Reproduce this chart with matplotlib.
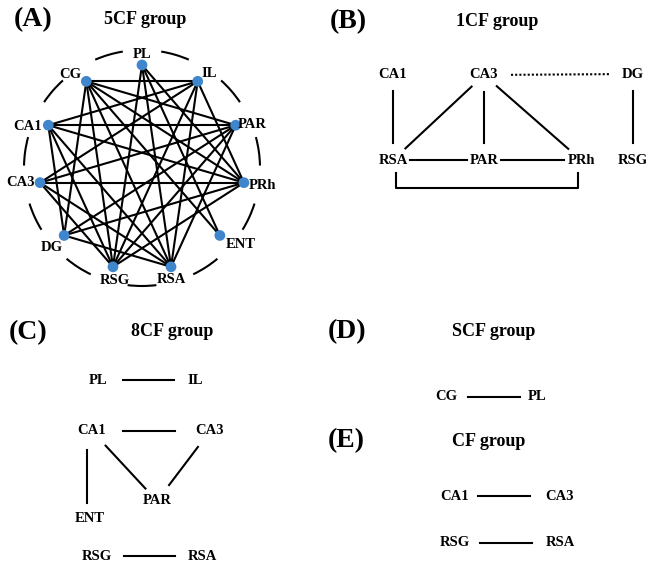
import numpy as np
import matplotlib.pyplot as plt
from matplotlib.patches import Arc

plt.rcParams['font.family'] = ['Liberation Serif', 'DejaVu Serif']
plt.rcParams['font.weight'] = 'bold'

# 5CF group: regions around the ring (clockwise from the top) and their links
ring_nodes = ['PL', 'IL', 'PAR', 'PRh', 'ENT', 'RSA', 'RSG', 'DG', 'CA3', 'CA1', 'CG']
ring_edges = [
    ('CG', 'IL'), ('CG', 'PAR'), ('CG', 'PRh'), ('CG', 'ENT'), ('CG', 'RSA'),
    ('CG', 'RSG'), ('CG', 'DG'),
    ('PL', 'RSG'), ('PL', 'RSA'), ('PL', 'ENT'), ('PL', 'PRh'),
    ('IL', 'CA1'), ('IL', 'CA3'), ('IL', 'PRh'), ('IL', 'RSA'), ('IL', 'RSG'),
    ('CA1', 'PAR'), ('CA1', 'PRh'), ('CA1', 'RSA'), ('CA1', 'RSG'), ('CA1', 'DG'),
    ('CA3', 'PRh'), ('CA3', 'PAR'), ('CA3', 'RSA'), ('CA3', 'RSG'),
    ('PAR', 'DG'), ('PAR', 'RSG'), ('PAR', 'RSA'),
    ('PRh', 'DG'), ('PRh', 'RSG'),
    ('DG', 'RSA'),
]

# other groups: links between regions; dotted links listed separately
b_edges = [('CA1', 'RSA'), ('CA3', 'RSA'), ('CA3', 'PAR'), ('CA3', 'PRh'),
           ('DG', 'RSG'), ('RSA', 'PAR'), ('PAR', 'PRh')]
b_dotted = [('CA3', 'DG')]
c_edges = [('PL', 'IL'), ('CA1', 'CA3'), ('CA1', 'ENT'), ('CA1', 'PAR'),
           ('CA3', 'PAR'), ('RSG', 'RSA')]
d_edges = [('CG', 'PL')]
e_edges = [('CA1', 'CA3'), ('RSG', 'RSA')]

fig = plt.figure(figsize=(6.46, 5.64), dpi=100)
ax = fig.add_axes([0, 0, 1, 1])
ax.set_xlim(0, 646)
ax.set_ylim(564, 0)
ax.axis('off')

LABEL_FS = 10.5
TITLE_FS = 13
PANEL_FS = 20
LW = 1.5


def panel_header(tag, title, tag_xy, title_xy):
    ax.text(tag_xy[0], tag_xy[1], tag, fontsize=PANEL_FS, ha='left', va='center')
    ax.text(title_xy[0], title_xy[1], title, fontsize=TITLE_FS, ha='center', va='center')


def gap_line(p, q, gap_p, gap_q, **kw):
    # line between two labels, trimmed so it stops short of the text
    p = np.array(p, float)
    q = np.array(q, float)
    d = (q - p) / np.linalg.norm(q - p)
    a = p + d * gap_p
    b = q - d * gap_q
    ax.plot([a[0], b[0]], [a[1], b[1]], color='black', lw=LW, **kw)


# ---- (A) 5CF group ----
panel_header('(A)', '5CF group', (14, 20), (145, 20))
cx, cy, r_node, r_ring = 142, 168, 103, 118
angles = 90 - np.arange(len(ring_nodes)) * 360 / len(ring_nodes)
pos_a = {n: (cx + r_node * np.cos(np.radians(a)), cy - r_node * np.sin(np.radians(a)))
         for n, a in zip(ring_nodes, angles)}

for u, v in ring_edges:
    ax.plot([pos_a[u][0], pos_a[v][0]], [pos_a[u][1], pos_a[v][1]],
            color='black', lw=LW, zorder=2)

xs = [pos_a[n][0] for n in ring_nodes]
ys = [pos_a[n][1] for n in ring_nodes]
ax.scatter(xs, ys, s=60, color='#3f86cc', zorder=3, edgecolors='none')

# dashed ring: one arc between each pair of neighbouring regions
step = 360 / len(ring_nodes)
for a in angles:
    mid = a - step / 2
    # y axis is flipped, so mirror the angle for the patch
    ax.add_patch(Arc((cx, cy), 2 * r_ring, 2 * r_ring, theta1=-mid - 7, theta2=-mid + 7,
                     color='black', lw=LW))

label_offsets = {'PL': (0, -11), 'IL': (12, -8), 'PAR': (16, -1), 'PRh': (19, 3),
                 'ENT': (21, 9), 'RSA': (0, 13), 'RSG': (2, 14), 'DG': (-12, 12),
                 'CA3': (-20, 0), 'CA1': (-21, 1), 'CG': (-16, -7)}
for n in ring_nodes:
    dx, dy = label_offsets[n]
    ax.text(pos_a[n][0] + dx, pos_a[n][1] + dy, n, fontsize=LABEL_FS,
            ha='center', va='center')


def text_graph(pos, edges, dotted=()):
    for n, (x, y) in pos.items():
        ax.text(x, y, n, fontsize=LABEL_FS, ha='center', va='center')
    for u, v in edges:
        gap_line(pos[u], pos[v], 17, 17)
    for u, v in dotted:
        gap_line(pos[u], pos[v], 27, 22, linestyle=(0, (1, 1)))


# ---- (B) 1CF group ----
panel_header('(B)', '1CF group', (330, 22), (497, 21))
pos_b = {'CA1': (393, 74), 'CA3': (484, 75), 'DG': (633, 74),
         'RSA': (393, 160), 'PAR': (484, 160), 'PRh': (581, 160), 'RSG': (633, 160)}
text_graph(pos_b, b_edges, b_dotted)
# bracket under RSA ... PRh
ax.plot([396, 396, 578, 578], [173, 188, 188, 173], color='black', lw=LW)

# ---- (C) 8CF group ----
panel_header('(C)', '8CF group', (9, 333), (172, 331))
pos_c = {'PL': (98, 380), 'IL': (195, 380), 'CA1': (92, 431), 'CA3': (210, 431),
         'ENT': (90, 519), 'PAR': (157, 501), 'RSG': (97, 556), 'RSA': (202, 556)}
for n, (x, y) in pos_c.items():
    ax.text(x, y, n, fontsize=LABEL_FS, ha='center', va='center')
gap_line(pos_c['PL'], pos_c['IL'], 25, 21)
gap_line(pos_c['CA1'], pos_c['CA3'], 31, 35)
ax.plot([87, 87], [450, 503], color='black', lw=LW)
gap_line(pos_c['CA1'], pos_c['PAR'], 20, 17)
gap_line(pos_c['CA3'], pos_c['PAR'], 20, 20)
gap_line(pos_c['RSG'], pos_c['RSA'], 27, 27)

# ---- (D) SCF group ----
panel_header('(D)', 'SCF group', (328, 332), (494, 331))
pos_d = {'CG': (446, 397), 'PL': (537, 397)}
text_graph(pos_d, [])
gap_line(pos_d['CG'], pos_d['PL'], 22, 17)

# ---- (E) CF group ----
panel_header('(E)', 'CF group', (328, 441), (489, 441))
pos_e = {'CA1': (455, 496), 'CA3': (560, 496), 'RSG': (455, 543), 'RSA': (560, 543)}
text_graph(pos_e, [])
gap_line(pos_e['CA1'], pos_e['CA3'], 23, 30)
gap_line(pos_e['RSG'], pos_e['RSA'], 25, 28)

fig.savefig('out.png', dpi=100)
